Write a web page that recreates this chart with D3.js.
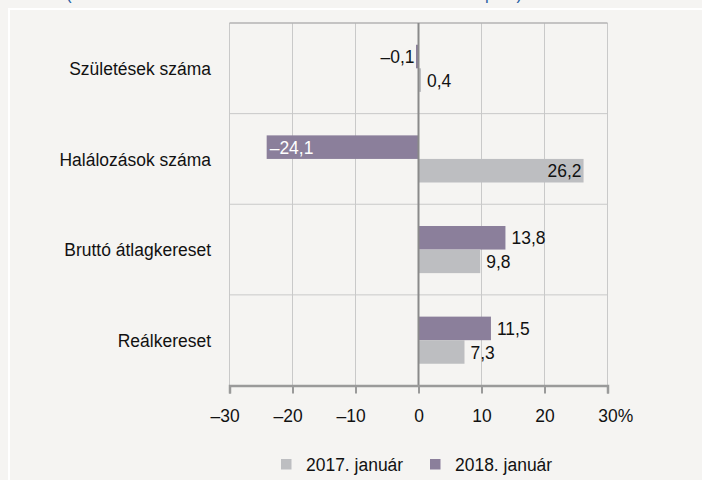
<!DOCTYPE html>
<html>
<head>
<meta charset="utf-8">
<script src="https://cdn.jsdelivr.net/npm/d3@7"></script>
<style>
  html, body { margin: 0; padding: 0; background: #f5f4f2; }
  svg { display: block; }
  text { font-family: "Liberation Sans", Arial, sans-serif; }
</style>
</head>
<body>
<svg id="chart" width="702" height="480"></svg>
<script>
// chart values
const categories = ["Születések száma", "Halálozások száma", "Bruttó átlagkereset", "Reálkereset"];
const values2017 = [0.4, 26.2, 9.8, 7.3];
const values2018 = [-0.1, -24.1, 13.8, 11.5];
const seriesNames = ["2017. január", "2018. január"];
const xTicks = [-30, -20, -10, 0, 10, 20, 30];
const titleText = "(százalékos változás az előző év azonos időszakához képest)";

const width = 702, height = 480;
const margin = { top: 23, right: 94.5, bottom: 94.5, left: 229.5 };
const colors = { "2017. január": "#bdbec1", "2018. január": "#8b7f9b" };
const fontSize = 19;
// the reference type is a condensed face: squeeze regular glyphs a bit
const squeeze = 0.92;

const svg = d3.select("#chart");

// background + white frame
svg.append("rect").attr("width", width).attr("height", height).attr("fill", "#f5f4f2");
svg.append("path")
    .attr("d", `M9,${height}V9H${width}`)
    .attr("fill", "none")
    .attr("stroke", "#ffffff")
    .attr("stroke-width", 2);

// subtitle, cut off at the top edge as in the source
svg.append("text")
    .attr("x", 66)
    .attr("y", -1)
    .attr("textLength", 456)
    .attr("lengthAdjust", "spacingAndGlyphs")
    .attr("font-size", 18)
    .attr("fill", "#2a5fa5")
    .text(titleText);

const x = d3.scaleLinear()
    .domain([-30, 30])
    .range([margin.left, width - margin.right]);

const yBand = d3.scaleBand()
    .domain(categories)
    .range([margin.top, height - margin.bottom])
    .paddingInner(0.48)
    .paddingOuter(0.24);

const ySeries = d3.scaleBand()
    .domain(["2018. január", "2017. január"])
    .range([0, yBand.bandwidth()]);

const step = yBand.step();
const plotTop = margin.top, plotBottom = height - margin.bottom;

// squeezed text helper: draws text at (px, py) with horizontal compression
function label(parent, px, py, str, anchor, fill, size) {
    return parent.append("text")
        .attr("transform", `translate(${px},${py}) scale(${squeeze},1)`)
        .attr("dy", "0.35em")
        .attr("text-anchor", anchor)
        .attr("font-size", size || fontSize)
        .attr("fill", fill || "#111")
        .text(str);
}

// grid
const grid = svg.append("g");
grid.selectAll("line.v")
    .data(xTicks.filter(d => d !== 0))
    .join("line")
    .attr("class", "v")
    .attr("x1", d => x(d)).attr("x2", d => x(d))
    .attr("y1", plotTop).attr("y2", plotBottom)
    .attr("stroke", "#c9c9c9")
    .attr("stroke-width", 1);

grid.selectAll("line.h")
    .data(categories.slice(1))
    .join("line")
    .attr("class", "h")
    .attr("x1", x(-30)).attr("x2", x(30))
    .attr("y1", d => yBand(d) - step * 0.24)
    .attr("y2", d => yBand(d) - step * 0.24)
    .attr("stroke", "#c9c9c9")
    .attr("stroke-width", 1);

grid.append("line")
    .attr("x1", x(-30)).attr("x2", x(30))
    .attr("y1", plotTop).attr("y2", plotTop)
    .attr("stroke", "#b3b3b3")
    .attr("stroke-width", 1.5);

// bars
const rows = [];
categories.forEach((c, i) => {
    rows.push({ cat: c, series: "2018. január", value: values2018[i] });
    rows.push({ cat: c, series: "2017. január", value: values2017[i] });
});

svg.append("g").selectAll("rect")
    .data(rows)
    .join("rect")
    .attr("x", d => d.value < 0 ? Math.min(x(d.value), x(0) - 2.5) : x(0))
    .attr("y", d => yBand(d.cat) + ySeries(d.series))
    .attr("width", d => Math.max(Math.abs(x(d.value) - x(0)), 2.5))
    .attr("height", ySeries.bandwidth())
    .attr("fill", d => colors[d.series]);

// zero line
svg.append("line")
    .attr("x1", x(0)).attr("x2", x(0))
    .attr("y1", plotTop).attr("y2", plotBottom)
    .attr("stroke", "#8a8a8a")
    .attr("stroke-width", 2);

// value labels
const fmt = v => (v < 0 ? "\u2013" : "") + Math.abs(v).toFixed(1).replace(".", ",");
const valueLabels = svg.append("g");
rows.forEach(d => {
    const cy = yBand(d.cat) + ySeries(d.series) + ySeries.bandwidth() / 2;
    const inside = Math.abs(d.value) > 20;
    if (d.value < 0 && inside) {
        label(valueLabels, x(d.value) + 3, cy, fmt(d.value), "start", "#ffffff");
    } else if (d.value < 0) {
        label(valueLabels, x(0) - 4, cy, fmt(d.value), "end");
    } else if (inside) {
        label(valueLabels, x(d.value) - 2, cy, fmt(d.value), "end");
    } else {
        label(valueLabels, x(d.value) + 6, cy, fmt(d.value), "start");
    }
});

// category labels
const catLabels = svg.append("g");
categories.forEach(c => {
    label(catLabels, 211, yBand(c) + yBand.bandwidth() / 2, c, "end");
});

// x axis
const axis = svg.append("g")
    .attr("transform", `translate(0,${plotBottom})`)
    .call(d3.axisBottom(x).tickValues(xTicks).tickSize(8).tickFormat(""));
axis.select(".domain").attr("stroke", "#9a9a9a").attr("stroke-width", 2.5);
axis.selectAll(".tick line").attr("stroke", "#9a9a9a").attr("stroke-width", 2);

axis.selectAll(".tick").each(function(d) {
    const g = d3.select(this);
    const num = label(g, 0, 30, Math.abs(d), "middle");
    const w = num.node().getComputedTextLength() * squeeze;
    if (d < 0) label(g, -w / 2, 30, "\u2013", "end");
    if (d === 30) label(g, w / 2, 30, "%", "start");
});

// legend
const legend = svg.append("g").attr("transform", "translate(281,459)");
seriesNames.forEach((s, i) => {
    const item = legend.append("g").attr("transform", `translate(${i * 149},0)`);
    item.append("rect")
        .attr("width", 10.5).attr("height", 10.5)
        .attr("fill", colors[s]);
    label(item, 25, 5.5, s, "start");
});
</script>
</body>
</html>
